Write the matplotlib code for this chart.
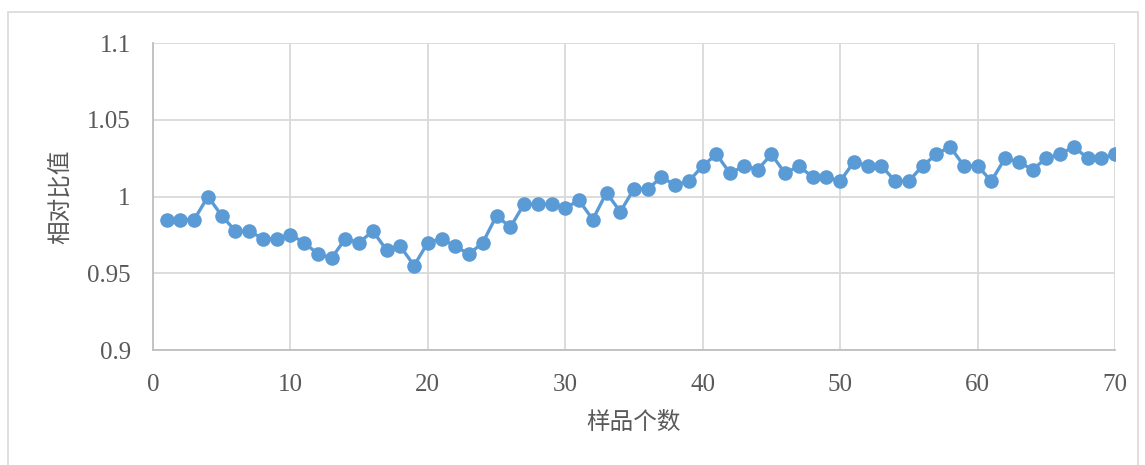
import numpy as np
import matplotlib as mpl
import matplotlib.pyplot as plt
from matplotlib.patches import Rectangle

# sample index and relative ratio
samples = list(range(1, 71))
ratio = [
    0.985, 0.985, 0.985, 1.0, 0.9875, 0.9775, 0.9775, 0.9725, 0.9725, 0.975,
    0.970, 0.9625, 0.960, 0.9725, 0.970, 0.9775, 0.965, 0.9675, 0.955, 0.970,
    0.9725, 0.9675, 0.9625, 0.970, 0.9875, 0.980, 0.995, 0.995, 0.995, 0.9925,
    0.9975, 0.985, 1.0025, 0.990, 1.005, 1.005, 1.0125, 1.0075, 1.010, 1.020,
    1.0275, 1.015, 1.020, 1.0175, 1.0275, 1.015, 1.020, 1.0125, 1.0125, 1.010,
    1.0225, 1.020, 1.020, 1.010, 1.010, 1.020, 1.0275, 1.0325, 1.020, 1.020,
    1.010, 1.025, 1.0225, 1.0175, 1.025, 1.0275, 1.0325, 1.025, 1.025, 1.0275,
]
xticks = [0, 10, 20, 30, 40, 50, 60, 70]
yticks = [0.9, 0.95, 1.0, 1.05, 1.1]
yticklabels = ['0.9', '0.95', '1', '1.05', '1.1']

cjk = ['Noto Sans CJK SC', 'DejaVu Sans']
num_font = 'Liberation Serif'
grid_c = '#d9d9d9'
blue = '#5b9bd5'


def main():
    fig = plt.figure(figsize=(11.45, 4.65), dpi=100)
    ax = fig.add_axes([153 / 1145, 1 - 350 / 465, 962 / 1145, 307 / 465])

    ax.plot(samples, ratio, color=blue, lw=2.4, marker='o', ms=10.5,
            markeredgewidth=0, zorder=3)

    ax.set_xlim(0, 70)
    ax.set_ylim(0.9, 1.1)
    ax.set_xticks(xticks)
    ax.set_yticks(yticks)
    ax.set_yticklabels(yticklabels)
    ax.grid(True, color=grid_c, lw=1.3)
    ax.tick_params(length=0, labelsize=18, labelcolor='#595959')
    ax.tick_params(axis='x', pad=17)
    ax.tick_params(axis='y', pad=16)
    for lab in ax.get_xticklabels() + ax.get_yticklabels():
        lab.set_fontfamily(num_font)

    for side in ['top', 'right']:
        ax.spines[side].set_visible(False)
    for side in ['left', 'bottom']:
        ax.spines[side].set_color('#bfbfbf')
        ax.spines[side].set_linewidth(1.3)

    ax.set_xlabel('样品个数', family=cjk, fontsize=17, color='#595959',
                  labelpad=11)
    ax.set_ylabel('相对比值', family=cjk, fontsize=17, color='#595959',
                  labelpad=10)

    # chart area border
    fig.patches.append(Rectangle((8 / 1145, -0.1), 1130 / 1145, 1.1 - 12 / 465,
                                 transform=fig.transFigure, fill=False,
                                 edgecolor='#d9d9d9', lw=1.2))

    fig.savefig('out.png', dpi=100)


if __name__ == '__main__':
    main()
